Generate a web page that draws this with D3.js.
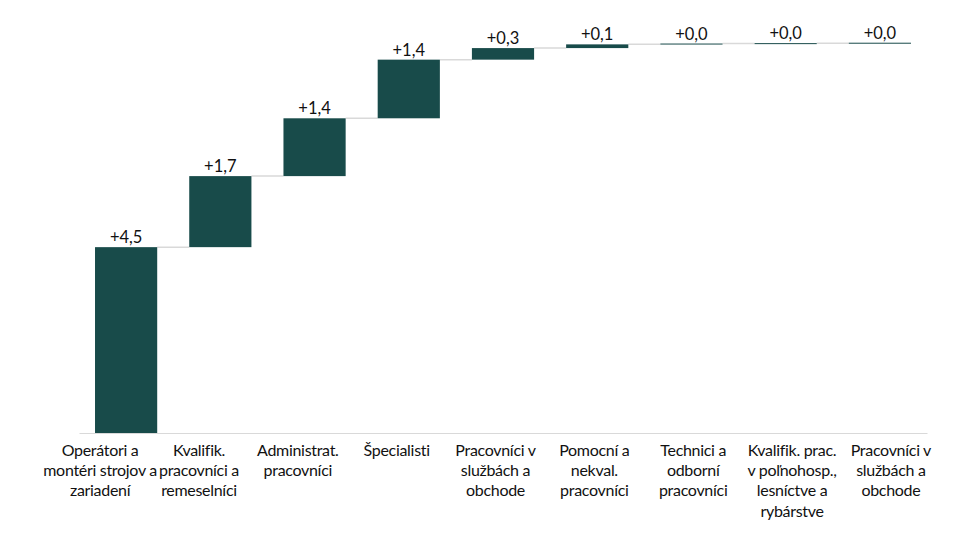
<!DOCTYPE html>
<html>
<head>
<meta charset="utf-8">
<script src="https://cdn.jsdelivr.net/npm/d3@7"></script>
<style>
  html, body { margin: 0; padding: 0; background: #fff; }
  svg text { font-family: Lato, "Liberation Sans", sans-serif; }
</style>
</head>
<body>
<div id="chart"></div>
<script>
// Waterfall: contributions by occupation group
const categories = [
    'Operátori a\nmontéri strojov a\nzariadení',
    'Kvalifik.\npracovníci a\nremeselníci',
    'Administrat.\npracovníci',
    'Špecialisti',
    'Pracovníci v\nslužbách a\nobchode',
    'Pomocní a\nnekval.\npracovníci',
    'Technici a\nodborní\npracovníci',
    'Kvalifik. prac.\nv poľnohosp.,\nlesníctve a\nrybárstve',
    'Pracovníci v\nslužbách a\nobchode'
];
const values = [4.5, 1.72, 1.4, 1.42, 0.28, 0.09, 0.02, 0.01, 0.01];
const yDomain = [0, 10];

const width = 959;
const height = 537;
const margin = { top: 20, right: 32, bottom: 104, left: 79 };

const barColor = '#184b4a';
const connectorColor = '#d9d9d9';
const textColor = '#111';

// cumulative start / end for each step
let running = 0;
const data = categories.map((c, i) => {
    const start = running;
    running += values[i];
    return { key: i, label: c, value: values[i], start: start, end: running };
});

const svg = d3.select('#chart')
    .append('svg')
    .attr('width', width)
    .attr('height', height);

const x = d3.scaleBand()
    .domain(data.map(d => d.key))
    .range([margin.left, width - margin.right])
    .paddingInner(0.34)
    .paddingOuter(0.17);

const y = d3.scaleLinear()
    .domain(yDomain)
    .range([height - margin.bottom, margin.top]);

// category labels sit on a slightly wider spread than the bars
const labelX = d3.scaleLinear()
    .domain([0, data.length - 1])
    .range([x(0) + x.bandwidth() / 2 - 26, x(data.length - 1) + x.bandwidth() / 2 + 11]);

// connectors between bars
svg.selectAll('.connector')
    .data(data.slice(0, -1))
    .enter()
    .append('line')
    .attr('class', 'connector')
    .attr('x1', d => x(d.key) + x.bandwidth())
    .attr('x2', d => x(d.key + 1))
    .attr('y1', d => y(d.end))
    .attr('y2', d => y(d.end))
    .attr('stroke', connectorColor)
    .attr('stroke-width', 1.5);

// axis (line only, labels drawn below)
const xAxis = d3.axisBottom(x).tickSize(0).tickFormat('');
svg.append('g')
    .attr('transform', `translate(0,${y(0)})`)
    .call(xAxis)
    .call(g => g.select('.domain').attr('stroke', connectorColor).attr('stroke-width', 1.2));

// bars
svg.selectAll('.bar')
    .data(data)
    .enter()
    .append('rect')
    .attr('class', 'bar')
    .attr('x', d => x(d.key))
    .attr('y', d => y(d.end))
    .attr('width', x.bandwidth())
    .attr('height', d => Math.max(1, y(d.start) - y(d.end)))
    .attr('fill', barColor);

// value labels
const fmt = d3.format('+.1f');
svg.selectAll('.value-label')
    .data(data)
    .enter()
    .append('text')
    .attr('class', 'value-label')
    .attr('x', d => x(d.key) + x.bandwidth() / 2)
    .attr('y', d => y(d.end) - 4)
    .attr('text-anchor', 'middle')
    .attr('font-size', '16.5px')
    .attr('fill', textColor)
    .text(d => fmt(d.value).replace('.', ','));

// category labels
const catLabels = svg.selectAll('.cat-label')
    .data(data)
    .enter()
    .append('text')
    .attr('class', 'cat-label')
    .attr('x', d => labelX(d.key))
    .attr('y', y(0) + 23)
    .attr('text-anchor', 'middle')
    .attr('font-size', '16px')
    .attr('letter-spacing', '-0.3px')
    .attr('fill', textColor);

catLabels.each(function(d) {
    const t = d3.select(this);
    d.label.split('\n').forEach((line, i) => {
        t.append('tspan')
            .attr('x', labelX(d.key))
            .attr('dy', i === 0 ? 0 : 20.2)
            .text(line);
    });
});
</script>
</body>
</html>
